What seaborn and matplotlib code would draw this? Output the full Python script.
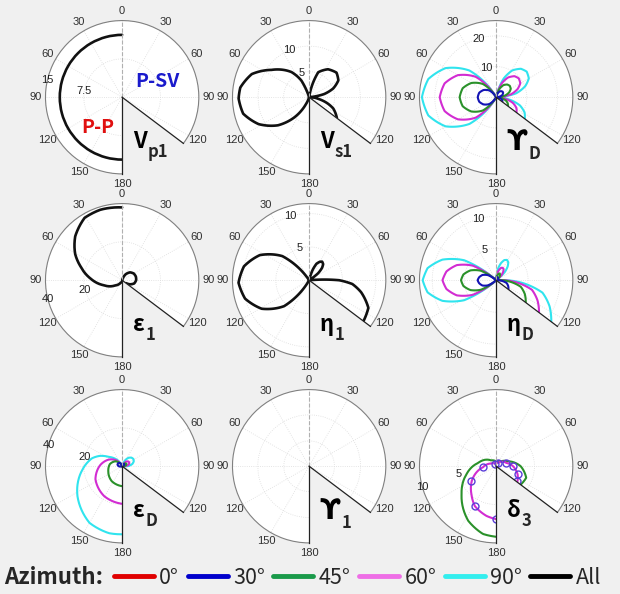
import numpy as np
import matplotlib
matplotlib.use('Agg')
import matplotlib.pyplot as plt
from matplotlib.lines import Line2D
import seaborn as sns

sns.set_style('white')
plt.rcParams['font.family'] = ['Liberation Sans', 'DejaVu Sans']
LABEL_FONT = ['Noto Sans CJK SC', 'DejaVu Sans']

# series colours
col_0, col_30, col_45, col_60, col_90, col_all = '#e00000', '#1414b4', '#2a912a', '#d22cd2', '#30e4ee', '#111111'
legend_labels = ['0°', '30°', '45°', '60°', '90°', 'All']
legend_colors = ['#e00000', '#0000cc', '#1a9a4a', '#ee6ee6', '#33eeee', '#000000']

# angular ticks (degrees, + = left side P-P, - = right side P-SV)
tick_deg = [-120, -90, -60, -30, 0, 30, 60, 90, 120, 150, 180]
tick_lab = ['120', '90', '60', '30', '0', '30', '60', '90', '120', '150', '180']

# ---- Vp1 ----
vp1_th = [0, 30, 60, 90, 120, 150, 180]
vp1_r = [12.2, 12.2, 12.2, 12.2, 12.2, 12.2, 12.2]

# ---- Vs1 ----
vs1_th_l = [0, 18, 25, 35, 54, 68, 82, 91, 104, 118, 132, 144, 155, 162, 180]
vs1_r_l = [0, 0, 3.6, 6.0, 9.1, 12.1, 13.6, 13.8, 13.3, 11.2, 8.2, 4.8, 1.5, 0, 0]
vs1_th_r = [0, -8, -13, -20, -34, -48, -60, -70, -78, -85, -92, -100, -109, -115, -127]
vs1_r_r = [0, 0, 2.0, 5.2, 6.6, 7.2, 6.6, 5.0, 3.0, 0, 0.6, 1.8, 3.9, 5.2, 6.8]

# ---- gamma_D ----
gd_th_l = [0, 30, 45, 60, 75, 90, 105, 120, 135, 150, 180]
gd_l_90 = [0, 0, 12.3, 19.0, 22.9, 24.2, 22.9, 19.0, 12.3, 0, 0]
gd_l_60 = [0, 0, 9.4, 14.4, 17.4, 18.4, 17.4, 14.4, 9.4, 0, 0]
gd_l_45 = [0, 0, 6.1, 9.3, 11.3, 11.9, 11.3, 9.3, 6.1, 0, 0]
gd_l_30 = [0, 0, 3.1, 4.7, 5.7, 6.0, 5.7, 4.7, 3.1, 0, 0]
gd_th_r = [-127, -118, -109, -100, -90, -88, -79, -69, -60, -50, -41, -31, -22, -12, 0]
gd_r_90 = [11.7, 10.5, 8.2, 4.4, 0, 0, 6.6, 10.2, 12.3, 13.0, 12.3, 10.2, 6.6, 0, 0]
gd_r_60 = [8.3, 7.5, 5.8, 3.2, 0, 0, 4.9, 7.5, 9.1, 9.6, 9.1, 7.5, 4.9, 0, 0]
gd_r_45 = [4.8, 4.3, 3.4, 1.8, 0, 0, 3.0, 4.6, 5.5, 5.8, 5.5, 4.6, 3.0, 0, 0]
gd_r_30 = [2.5, 2.3, 1.8, 1.0, 0, 0, 1.4, 2.2, 2.6, 2.8, 2.6, 2.2, 1.4, 0, 0]

# ---- eps_1 ----
e1_th_l = [0, 17, 31, 47, 61, 72, 87, 105, 127, 150, 180]
e1_r_l = [38, 38.5, 38, 33.5, 28, 22.7, 16.5, 10, 4.5, 1.5, 0.5]
e1_th_r = [0, -15, -30, -45, -60, -75, -90, -105, -118, -127]
e1_r_r = [0, 0, 3.5, 5.8, 7.0, 7.4, 7.3, 6.5, 4.5, 2.5]

# ---- eta_1 ----
h1_th_l = [0, 34, 48, 63, 78, 92, 106, 121, 136, 150, 180]
h1_r_l = [0, 0, 5.4, 8.3, 10.0, 10.6, 10.0, 8.3, 5.4, 0, 0]
h1_th_r = [0, -13, -19, -24, -30, -35, -41, -46, -52, -57, -85, -90, -95, -103, -115, -127]
h1_r_r = [0, 0, 1.7, 2.7, 3.2, 3.4, 3.2, 2.7, 1.7, 0, 0, 4.5, 6.5, 8.0, 9.8, 10.2]

# ---- eta_D ----
hd_th_l = [0, 48, 58, 69, 80, 90, 100, 111, 122, 132, 180]
hd_l_90 = [0, 0, 5.9, 9.0, 10.9, 11.5, 10.9, 9.0, 5.9, 0, 0]
hd_l_60 = [0, 0, 4.3, 6.6, 7.9, 8.4, 7.9, 6.6, 4.3, 0, 0]
hd_l_45 = [0, 0, 2.8, 4.3, 5.2, 5.5, 5.2, 4.3, 2.8, 0, 0]
hd_l_30 = [0, 0, 1.5, 2.3, 2.7, 2.9, 2.7, 2.3, 1.5, 0, 0]
hd_th_r = [-127, -116, -105, -95, -86, -53, -47, -40, -34, -28, -22, -16, -9, -3, 0]
hd_r_90 = [10.8, 9.3, 7.5, 3.8, 0, 0, 1.8, 2.8, 3.4, 3.6, 3.4, 2.8, 1.8, 0, 0]
hd_r_60 = [8.4, 7.2, 5.8, 2.9, 0, 0, 1.1, 1.7, 2.1, 2.2, 2.1, 1.7, 1.1, 0, 0]
hd_r_45 = [5.8, 5.0, 4.0, 2.0, 0, 0, 0.6, 0.9, 1.1, 1.2, 1.1, 0.9, 0.6, 0, 0]
hd_r_30 = [2.4, 2.1, 1.7, 0.8, 0, 0, 0.3, 0.4, 0.5, 0.5, 0.5, 0.4, 0.3, 0, 0]

# ---- eps_D ----
ed_90_th_l = [20, 34, 55, 65, 75, 95, 124, 150, 169, 180]
ed_90_r_l = [0, 3.1, 8.5, 12.8, 16.2, 20.8, 28.1, 34.1, 35.6, 35.5]
ed_90_th_r = [-97, -87, -77, -67, -57, -47, -37, -27, -17]
ed_90_r_r = [0, 3.6, 5.5, 6.6, 7.0, 6.6, 5.5, 3.6, 0]
ed_60_th_l = [25, 40, 63, 86, 116, 149, 180]
ed_60_r_l = [0, 3.5, 7.7, 11.3, 15.5, 18.2, 19.6]
ed_60_th_r = [-95, -86, -78, -69, -60, -51, -42, -34, -25]
ed_60_r_r = [0, 2.1, 3.3, 4.0, 4.2, 4.0, 3.3, 2.1, 0]
ed_45_th_l = [20, 53, 80, 110, 145, 180]
ed_45_r_l = [0, 4.3, 6.5, 7.7, 9.5, 10.4]
ed_45_th_r = [-95, -78, -60, -42, -25]
ed_45_r_r = [0, 2.0, 2.6, 2.0, 0]
ed_30_th_l = [10, 30, 50, 70, 90, 110]
ed_30_r_l = [0, 1.8, 2.6, 2.6, 1.8, 0]
ed_30_th_r = [-80, -60, -40, -20, 0]
ed_30_r_r = [0, 1.2, 1.6, 1.2, 0]

# ---- delta_3 ----
d3_45_th_l = [0, 41, 80, 105, 129, 153, 169, 180]
d3_45_r_l = [0.6, 1.0, 2.4, 4.0, 5.8, 8.0, 9.0, 9.2]
d3_45_th_r = [0, -45, -67, -90, -111, -127]
d3_45_r_r = [0.6, 0.9, 1.65, 3.2, 4.2, 4.0]
d3_60_th_l = [0, 30, 65, 94, 121, 139, 152, 169, 180]
d3_60_r_l = [0.4, 0.4, 0.8, 1.7, 3.7, 4.9, 5.9, 6.6, 6.9]
d3_60_th_r = [0, -30, -72, -90, -111, -125, -127]
d3_60_r_r = [0.4, 0.5, 1.4, 2.2, 3.0, 3.4, 3.4]
d3_30_th = [-125, -111, -90, -72, -30, 30, 94, 121, 152, 180]
d3_30_r = [3.4, 3.0, 2.2, 1.4, 0.5, 0.4, 1.7, 3.8, 5.9, 6.9]

panels = [
    dict(rmax=15, rticks=[7.5, 15], rlab=['7.5', '15'], rpos=[80, 77], main='V', sub='p1',
         curves=[(vp1_th, vp1_r, col_all)]),
    dict(rmax=15, rticks=[5, 10], rlab=['5', '10'], rpos=[18, 23], main='V', sub='s1',
         curves=[(vs1_th_l, vs1_r_l, col_all), (vs1_th_r, vs1_r_r, col_all)]),
    dict(rmax=25, rticks=[10, 20], rlab=['10', '20'], rpos=[18, 17], main='ϒ', sub='D',
         curves=[(gd_th_l, gd_l_90, col_90), (gd_th_l, gd_l_60, col_60), (gd_th_l, gd_l_45, col_45),
                 (gd_th_l, gd_l_30, col_30), (gd_th_r, gd_r_90, col_90), (gd_th_r, gd_r_60, col_60),
                 (gd_th_r, gd_r_45, col_45), (gd_th_r, gd_r_30, col_30)]),
    dict(rmax=40, rticks=[20, 40], rlab=['20', '40'], rpos=[104, 104], main='ε', sub='1',
         curves=[(e1_th_l, e1_r_l, col_all), (e1_th_r, e1_r_r, col_all)]),
    dict(rmax=11.5, rticks=[5, 10], rlab=['5', '10'], rpos=[16, 16], main='η', sub='1',
         curves=[(h1_th_l, h1_r_l, col_all), (h1_th_r, h1_r_r, col_all)]),
    dict(rmax=12, rticks=[5, 10], rlab=['5', '10'], rpos=[21, 16], main='η', sub='D',
         curves=[(hd_th_l, hd_l_90, col_90), (hd_th_l, hd_l_60, col_60), (hd_th_l, hd_l_45, col_45),
                 (hd_th_l, hd_l_30, col_30), (hd_th_r, hd_r_90, col_90), (hd_th_r, hd_r_60, col_60),
                 (hd_th_r, hd_r_45, col_45), (hd_th_r, hd_r_30, col_30)]),
    dict(rmax=40, rticks=[20, 40], rlab=['20', '40'], rpos=[76, 74], main='ε', sub='D',
         curves=[(ed_90_th_l, ed_90_r_l, col_90), (ed_90_th_r, ed_90_r_r, col_90),
                 (ed_60_th_l, ed_60_r_l, col_60), (ed_60_th_r, ed_60_r_r, col_60),
                 (ed_45_th_l, ed_45_r_l, col_45), (ed_45_th_r, ed_45_r_r, col_45),
                 (ed_30_th_l, ed_30_r_l, col_30), (ed_30_th_r, ed_30_r_r, col_30)]),
    dict(rmax=1, rticks=[0.33, 0.67], rlab=[], rpos=[], main='ϒ', sub='1', curves=[]),
    dict(rmax=10, rticks=[5, 10], rlab=['5', '10'], rpos=[102, 106], main='δ', sub='3',
         curves=[(d3_45_th_l, d3_45_r_l, col_45), (d3_45_th_r, d3_45_r_r, col_45),
                 (d3_60_th_l, d3_60_r_l, col_60), (d3_60_th_r, d3_60_r_r, col_60)]),
]

W, H = 620, 594
centers_x = [122, 309, 496]
centers_y = [97, 280, 466]
R = 77

fig = plt.figure(figsize=(W / 100, H / 100), dpi=100, facecolor='#f0f0f0')

for i, p in enumerate(panels):
    cx = centers_x[i % 3]
    cy = centers_y[i // 3]
    ax = fig.add_axes([(cx - R) / W, (H - cy - R) / H, 2 * R / W, 2 * R / H], projection='polar')
    ax.set_facecolor('white')
    ax.set_theta_zero_location('N')
    ax.set_theta_direction(1)
    ax.set_thetamin(-127)
    ax.set_thetamax(180)

    for th, r, c in p['curves']:
        sns.lineplot(x=np.deg2rad(th), y=r, ax=ax, color=c, sort=False, estimator=None,
                     linewidth=1.9 if c == col_all else 1.5)
    if i == 8:
        sns.lineplot(x=np.deg2rad(d3_30_th), y=d3_30_r, ax=ax, sort=False, estimator=None,
                     linestyle='', marker='o', markersize=5, markerfacecolor='none',
                     markeredgecolor='#5a3fd8', markeredgewidth=1.0, color='#5a3fd8')
    for ln in ax.get_lines():
        ln.get_path()._interpolation_steps = 40

    ax.axvline(0, color='#b0b0b0', ls='--', lw=0.8)
    ax.set_rlim(0, p['rmax'])
    ax.set_yticks(p['rticks'])
    ax.set_yticklabels([])
    # radial labels sit on the left side, MATLAB style
    for ang, v, lab in zip(p['rpos'], p['rticks'], p['rlab']):
        ax.text(np.deg2rad(ang), v, lab, fontsize=8, color='#202020', ha='center', va='center')
    ax.set_xticks(np.deg2rad(tick_deg))
    ax.set_xticklabels(tick_lab)
    ax.tick_params(axis='x', labelsize=8, pad=-3.5, colors='#303030')
    ax.grid(True, color='#dcdcdc', lw=0.6, ls=':')
    ax.spines['polar'].set_color('#808080')
    ax.spines['polar'].set_linewidth(0.8)
    for s in ('start', 'end'):
        ax.spines[s].set_color('#222222')
        ax.spines[s].set_linewidth(0.9)
    ax.set_xlabel('')
    ax.set_ylabel('')

    big = 20 if p['main'] == 'ϒ' else 16
    t = ax.text(0.57, 0.21, p['main'], transform=ax.transAxes, fontsize=big, fontweight='bold',
                family=LABEL_FONT, va='center', ha='left', color='black')
    ax.annotate(p['sub'], xy=(1.0, 0.05), xycoords=t, xytext=(0.5, 0), textcoords='offset points',
                fontsize=12, fontweight='bold', family=LABEL_FONT, va='center', ha='left')

    if i == 0:
        ax.text(0.73, 0.6, 'P-SV', transform=ax.transAxes, fontsize=14, fontweight='bold',
                family=LABEL_FONT, color='#1a1acc', ha='center', va='center')
        ax.text(0.34, 0.3, 'P-P', transform=ax.transAxes, fontsize=14, fontweight='bold',
                family=LABEL_FONT, color='#e01010', ha='center', va='center')

# legend row
fig.text(4 / W, 1 - 578 / H, 'Azimuth:', fontsize=16, fontweight='bold', family=LABEL_FONT,
         va='center', ha='left')
handles = [Line2D([], [], color=c, lw=3.5) for c in legend_colors]
fig.legend(handles, legend_labels, loc='center left', bbox_to_anchor=(114 / W, 1 - 578 / H),
           ncol=6, frameon=False, prop={'family': LABEL_FONT, 'size': 15.5},
           handlelength=1.85, handletextpad=0.25, columnspacing=0.4, borderaxespad=0, borderpad=0)

fig.savefig('out.png', dpi=100, facecolor=fig.get_facecolor())
